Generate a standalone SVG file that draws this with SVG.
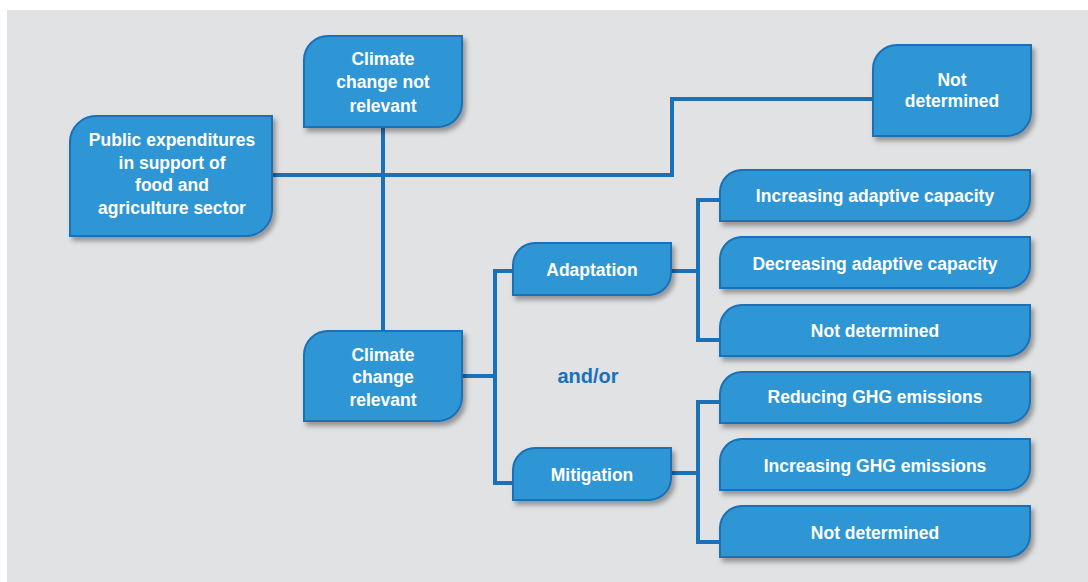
<svg xmlns="http://www.w3.org/2000/svg" width="1088" height="582" viewBox="0 0 1088 582">
  <defs>
    <filter id="sh" x="-10%" y="-10%" width="130%" height="140%">
      <feDropShadow dx="3" dy="4" stdDeviation="2.5" flood-color="#000" flood-opacity="0.35"/>
    </filter>
    <style>
      .box { fill: #2f96d4; stroke: #1a6fb6; stroke-width: 2; filter: url(#sh); }
      .t { font-family: "Liberation Sans", Arial, sans-serif; font-weight: bold; font-size: 17.5px; fill: #ffffff; text-anchor: middle; }
      .conn { fill: none; stroke: #1b71b8; stroke-width: 4; stroke-linejoin: miter; stroke-linecap: butt; }
      .andor { font-family: "Liberation Sans", Arial, sans-serif; font-weight: bold; font-size: 20px; fill: #1b71b8; text-anchor: middle; }
    </style>
  </defs>
  <rect x="0" y="0" width="1088" height="582" fill="#ffffff"/>
  <rect x="7" y="10" width="1081" height="572" fill="#e1e2e4"/>

  <g id="connectors">
    <path class="conn" d="M272,175 H672 V99 H873"/>
    <path class="conn" d="M383,127 V331"/>
    <path class="conn" d="M462,376 H495"/>
    <path class="conn" d="M513,271 H495 V483 H513"/>
    <path class="conn" d="M671,271 H698"/>
    <path class="conn" d="M720,200 H698 V340 H720"/>
    <path class="conn" d="M671,473 H698"/>
    <path class="conn" d="M720,402 H698 V542 H720"/>
  </g>

  <g id="public">
    <path class="box" d="M70,142 A26,26 0 0 1 96,116 H272 V210 A26,26 0 0 1 246,236 H70 Z"/>
    <text class="t" x="172" y="146">Public expenditures</text>
    <text class="t" x="172" y="168.7">in support of</text>
    <text class="t" x="172" y="191.3">food and</text>
    <text class="t" x="172" y="214">agriculture sector</text>
  </g>

  <g id="cc-not-relevant">
    <path class="box" d="M304,60 A24,24 0 0 1 328,36 H462 V103 A24,24 0 0 1 438,127 H304 Z"/>
    <text class="t" x="383" y="65">Climate</text>
    <text class="t" x="383" y="88.3">change not</text>
    <text class="t" x="383" y="111.7">relevant</text>
  </g>

  <g id="not-determined-top">
    <path class="box" d="M873,69 A24,24 0 0 1 897,45 H1031 V112 A24,24 0 0 1 1007,136 H873 Z"/>
    <text class="t" x="952" y="85.7">Not</text>
    <text class="t" x="952" y="107">determined</text>
  </g>

  <g id="cc-relevant">
    <path class="box" d="M304,355 A24,24 0 0 1 328,331 H462 V397 A24,24 0 0 1 438,421 H304 Z"/>
    <text class="t" x="383" y="360.7">Climate</text>
    <text class="t" x="383" y="383.3">change</text>
    <text class="t" x="383" y="406">relevant</text>
  </g>

  <g id="adaptation">
    <path class="box" d="M513,265 A22,22 0 0 1 535,243 H671 V273 A22,22 0 0 1 649,295 H513 Z"/>
    <text class="t" x="592" y="275.7">Adaptation</text>
  </g>

  <g id="mitigation">
    <path class="box" d="M513,470 A22,22 0 0 1 535,448 H671 V478 A22,22 0 0 1 649,500 H513 Z"/>
    <text class="t" x="592" y="480.7">Mitigation</text>
  </g>

  <text class="andor" x="588" y="383">and/or</text>

  <g id="increasing-adaptive">
    <path class="box" d="M720,192 A22,22 0 0 1 742,170 H1030 V199 A22,22 0 0 1 1008,221 H720 Z"/>
    <text class="t" x="875" y="201.7">Increasing adaptive capacity</text>
  </g>

  <g id="decreasing-adaptive">
    <path class="box" d="M720,259 A22,22 0 0 1 742,237 H1030 V266 A22,22 0 0 1 1008,288 H720 Z"/>
    <text class="t" x="875" y="270">Decreasing adaptive capacity</text>
  </g>

  <g id="not-determined-adaptation">
    <path class="box" d="M720,327 A22,22 0 0 1 742,305 H1030 V334 A22,22 0 0 1 1008,356 H720 Z"/>
    <text class="t" x="875" y="336.7">Not determined</text>
  </g>

  <g id="reducing-ghg">
    <path class="box" d="M720,394 A22,22 0 0 1 742,372 H1030 V401 A22,22 0 0 1 1008,423 H720 Z"/>
    <text class="t" x="875" y="403.3">Reducing GHG emissions</text>
  </g>

  <g id="increasing-ghg">
    <path class="box" d="M720,461 A22,22 0 0 1 742,439 H1030 V468 A22,22 0 0 1 1008,490 H720 Z"/>
    <text class="t" x="875" y="471.7">Increasing GHG emissions</text>
  </g>

  <g id="not-determined-mitigation">
    <path class="box" d="M720,528 A22,22 0 0 1 742,506 H1030 V535 A22,22 0 0 1 1008,557 H720 Z"/>
    <text class="t" x="875" y="539.3">Not determined</text>
  </g>
</svg>
